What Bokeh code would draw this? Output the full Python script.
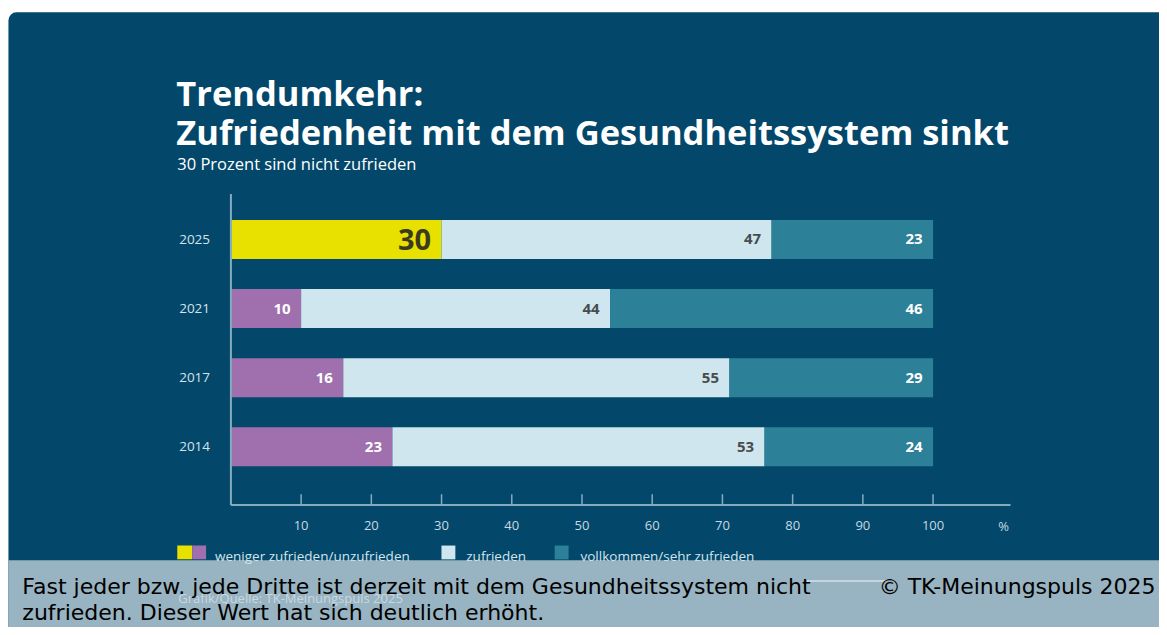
from bokeh.plotting import figure
from bokeh.models import Range1d, BoxAnnotation, ColumnDataSource
from bokeh.core.properties import value
from bokeh.embed import file_html
from bokeh.resources import INLINE

# ---------------- data ----------------
years = ["2014", "2017", "2021", "2025"]
weniger = [23, 16, 10, 30]        # weniger zufrieden/unzufrieden
zufrieden = [53, 55, 44, 47]      # zufrieden
sehr = [24, 29, 46, 23]           # vollkommen/sehr zufrieden
ticks = [10, 20, 30, 40, 50, 60, 70, 80, 90, 100]
tick_labels = [str(t) for t in ticks]
unit_label = "%"
legend_labels = ["weniger zufrieden/unzufrieden", "zufrieden", "vollkommen/sehr zufrieden"]
title_lines = ["Trendumkehr:", "Zufriedenheit mit dem Gesundheitssystem sinkt"]
subtitle = "30 Prozent sind nicht zufrieden"
source_note = "Grafik/Quelle: TK-Meinungspuls 2025"
caption_lines = ["Fast jeder bzw. jede Dritte ist derzeit mit dem Gesundheitssystem nicht",
                 "zufrieden. Dieser Wert hat sich deutlich erhöht."]
credit = "© TK-Meinungspuls 2025"

# ---------------- styling / layout ----------------
W, H = 1159, 627
REF_W, REF_H = 1167, 635
X0, PXPCT = 232.0, 7.07     # layout px of 0 %, px per %
Y0, ROW = 452.0, 70.0       # layout px of first row centre, px per row


def X(px):
    return (px - X0) / PXPCT


def Y(py):
    return (Y0 - py) / ROW


NAVY = "#03486a"
YELLOW = "#e8e100"
PURPLE = "#a06fad"
LIGHT = "#cfe6ee"
TEAL = "#2c8199"
BAND = "#98b3c1"
AXIS = "#86abbf"
FONT = value("Open Sans")
CAPFONT = value("DejaVu Sans")

p = figure(width=W, height=H, output_backend="svg", toolbar_location=None,
           x_range=Range1d(X(0), X(REF_W)),
           y_range=Range1d(Y(REF_H), Y(0)),
           x_axis_type=None, y_axis_type=None, min_border=0,
           background_fill_color="white", border_fill_color="white",
           outline_line_color=None)
p.grid.visible = False

# background panel and caption band
p.add_layout(BoxAnnotation(left=X(8), right=X(1200), top=Y(12), bottom=Y(700),
                           fill_color=NAVY, fill_alpha=1, line_color=None,
                           level="underlay", border_radius=(8, 0, 0, 0)))
p.add_layout(BoxAnnotation(left=X(8), right=X(1200), top=Y(567), bottom=Y(700),
                           fill_color=BAND, fill_alpha=1, line_color=None,
                           level="underlay"))

# ---------------- bars ----------------
ypos = list(range(len(years)))
c1 = [YELLOW if y == "2025" else PURPLE for y in years]
end1 = weniger
end2 = [a + b for a, b in zip(weniger, zufrieden)]
end3 = [a + b + c for a, b, c in zip(weniger, zufrieden, sehr)]
src = ColumnDataSource(dict(
    y=ypos, years=years, e0=[0] * len(years), e1=end1, e2=end2, e3=end3, c1=c1,
    l1=[str(v) for v in weniger], l2=[str(v) for v in zufrieden], l3=[str(v) for v in sehr],
    lc1=["#3c3b1f" if y == "2025" else "white" for y in years],
    fs1=["29px" if y == "2025" else "15px" for y in years],
))
BH = 39.5 / ROW
p.hbar(y="y", left="e0", right="e1", height=BH, fill_color="c1", line_color=None, source=src)
p.hbar(y="y", left="e1", right="e2", height=BH, fill_color=LIGHT, line_color=None, source=src)
p.hbar(y="y", left="e2", right="e3", height=BH, fill_color=TEAL, line_color=None, source=src)

PAD = 10.5 / PXPCT
src.data["x1"] = [v - PAD for v in end1]
src.data["x2"] = [v - PAD for v in end2]
src.data["x3"] = [v - PAD for v in end3]
p.text(x="x1", y="y", text="l1", text_color="lc1", text_font_size="fs1",
       text_font=FONT, text_font_style="bold", text_align="right",
       text_baseline="middle", source=src)
p.text(x="x2", y="y", text="l2", text_color="#474c4f", text_font_size="15px",
       text_font=FONT, text_font_style="bold", text_align="right",
       text_baseline="middle", source=src)
p.text(x="x3", y="y", text="l3", text_color="white", text_font_size="15px",
       text_font=FONT, text_font_style="bold", text_align="right",
       text_baseline="middle", source=src)

# year labels
p.text(x=[X(211)] * len(years), y=ypos, text=years, text_color="#d6e3ea",
       text_font_size="13.5px", text_font=FONT, text_align="right",
       text_baseline="middle")

# ---------------- axes ----------------
p.segment(x0=[0], y0=[Y(196)], x1=[0], y1=[Y(511)], line_color=AXIS, line_width=2)
p.segment(x0=[0], y0=[Y(511)], x1=[X(1017)], y1=[Y(511)], line_color=AXIS, line_width=2)
p.segment(x0=ticks, y0=[Y(511)] * len(ticks), x1=ticks, y1=[Y(500)] * len(ticks),
          line_color=AXIS, line_width=1.5)
p.text(x=ticks, y=[Y(532)] * len(ticks), text=tick_labels, text_color="#c6d8e2",
       text_font_size="13px", text_font=FONT, text_align="center",
       text_baseline="alphabetic")
p.text(x=[X(1010)], y=[Y(532)], text=[unit_label], text_color="#c6d8e2",
       text_font_size="13px", text_font=FONT, text_align="center",
       text_baseline="alphabetic")

# ---------------- titles ----------------
p.text(x=[X(177)] * 2, y=[Y(93), Y(133)], text=title_lines, text_color="white",
       text_font_size="34.5px", text_font=FONT, text_font_style="bold",
       text_align="left", text_baseline="alphabetic")
p.text(x=[X(178)], y=[Y(165)], text=[subtitle], text_color="white",
       text_font_size="16.5px", text_font=FONT, text_align="left",
       text_baseline="alphabetic")

# ---------------- legend ----------------
p.quad(left=[X(178), X(193), X(444), X(558)], right=[X(193), X(207), X(458), X(572)],
       top=[Y(552)] * 4, bottom=[Y(566)] * 4,
       fill_color=[YELLOW, PURPLE, LIGHT, TEAL], line_color=None)
p.text(x=[X(216), X(469), X(584)], y=[Y(563)] * 3, text=legend_labels,
       text_color="#d4e3ea", text_font_size="13.5px", text_font=FONT,
       text_align="left", text_baseline="alphabetic")

# ---------------- caption ----------------
p.segment(x0=[X(812)], y0=[Y(588)], x1=[X(891)], y1=[Y(588)], line_color="#c4d7e0",
          line_width=2)
p.text(x=[X(179)], y=[Y(605)], text=[source_note], text_color="#c8d8e0",
       text_font_size="13px", text_font=FONT, text_align="left",
       text_baseline="alphabetic")
p.text(x=[X(22)] * 2, y=[Y(593), Y(620)], text=caption_lines, text_color="black",
       text_font_size="22px", text_font=CAPFONT, text_align="left",
       text_baseline="alphabetic")
p.text(x=[X(1163)], y=[Y(593)], text=[credit], text_color="black",
       text_font_size="22px", text_font=CAPFONT, text_align="right",
       text_baseline="alphabetic")

open("out.html", "w").write(file_html(p, INLINE))
